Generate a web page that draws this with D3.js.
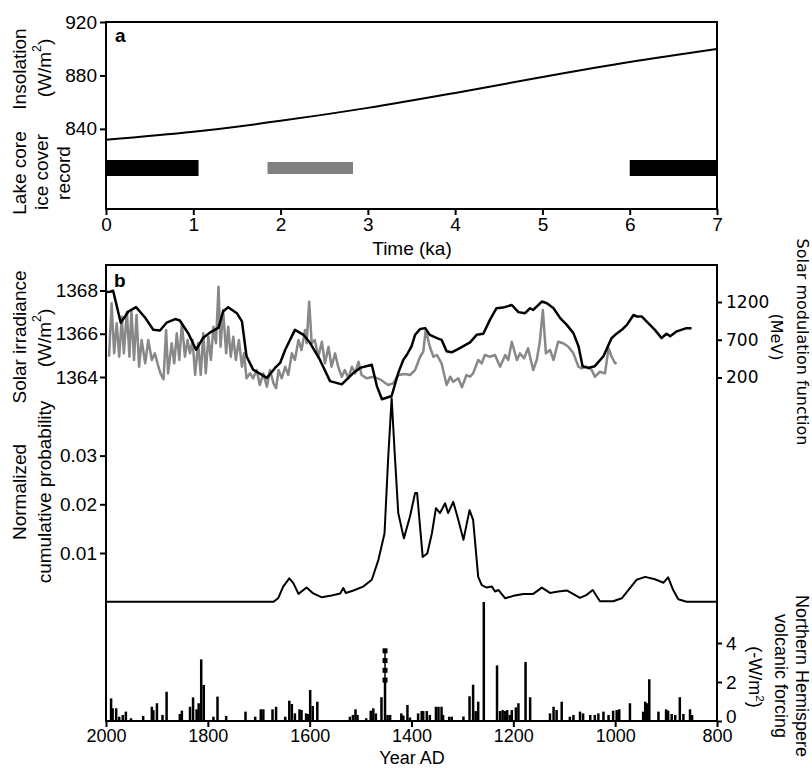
<!DOCTYPE html>
<html>
<head>
<meta charset="utf-8">
<script src="https://cdn.jsdelivr.net/npm/d3@7"></script>
<style>
  body { margin: 0; background: #fff; }
  svg { display: block; font-family: "Liberation Sans", Arial, sans-serif; }
  .tick text { font-family: "Liberation Sans", Arial, sans-serif; font-size: 19px; fill: #000; }
  .tick line { stroke: #000; stroke-width: 2px; }
  .years .tick text { font-size: 18px; }
  .mod .tick text { font-family: "DejaVu Sans", Verdana, sans-serif; font-size: 17px; }
  .frame { fill: none; stroke: #000; stroke-width: 2px; }
  .title { font-size: 19px; fill: #000; }
  .title.small { font-size: 18px; }
  .title.dv { font-family: "DejaVu Sans", Verdana, sans-serif; font-size: 16px; }
  .panel { font-size: 19px; font-weight: bold; }
</style>
</head>
<body>
<svg id="chart" width="812" height="768"></svg>
<script>
// panel a: summer insolation (ka) and the lake core ice cover record
const kaTicks = [0, 1, 2, 3, 4, 5, 6, 7];
const insolationTicks = [840, 880, 920];
const insolationKa = [0, 1, 2, 3, 4, 5, 6, 7];
const insolationWm2 = [831.8, 837.8, 846, 855.7, 866.9, 878.8, 890, 899.8];
const iceStartKa = [0, 1.85, 6.0];
const iceEndKa = [1.06, 2.83, 7.0];
const iceClass = ['A', 'B', 'A'];

// panel b: year AD axis
const yearTicks = [2000, 1800, 1600, 1400, 1200, 1000, 800];

// solar irradiance (W/m2), black
const irradianceTicks = [1364, 1366, 1368];
const irradianceYear = [2000, 1992, 1986, 1971, 1956, 1941, 1923, 1907, 1894, 1881, 1864, 1855, 1838, 1823, 1809, 1796,
  1779, 1770, 1760, 1743, 1733, 1724, 1711, 1684, 1668, 1658, 1648, 1629, 1612, 1599, 1580, 1560, 1537, 1514, 1501,
  1478, 1468, 1458, 1439, 1426, 1416, 1409, 1400, 1393, 1383, 1373, 1364, 1350, 1341, 1331, 1321, 1305, 1285, 1272,
  1259, 1246, 1233, 1220, 1203, 1190, 1177, 1167, 1161, 1144, 1134, 1121, 1108, 1095, 1082, 1072, 1064, 1053, 1040,
  1023, 1007, 1000, 987, 977, 964, 958, 948, 935, 922, 909, 899, 892, 879, 860, 850];
const irradianceValue = [1367.93, 1367.94, 1367.99, 1366.51, 1367.03, 1367.23, 1366.74, 1366.18, 1366.15, 1366.51,
  1366.68, 1366.61, 1366.0, 1365.26, 1365.82, 1366.05, 1366.28, 1367.03, 1367.23, 1366.95, 1366.57, 1364.96, 1364.34,
  1363.96, 1364.42, 1364.65, 1365.26, 1366.18, 1365.95, 1365.57, 1364.8, 1363.81, 1363.66, 1364.19, 1364.42, 1364.57,
  1363.58, 1362.97, 1363.12, 1364.19, 1364.8, 1365.03, 1365.42, 1365.95, 1366.22, 1366.26, 1365.95, 1365.8, 1365.72,
  1365.19, 1365.14, 1365.34, 1365.6, 1365.95, 1366.0, 1366.64, 1367.18, 1367.21, 1367.33, 1367.0, 1366.95, 1367.18,
  1367.1, 1367.49, 1367.41, 1367.18, 1366.72, 1366.41, 1366.03, 1365.42, 1364.5, 1364.42, 1364.5, 1364.96, 1365.8,
  1365.95, 1366.18, 1366.41, 1366.87, 1366.8, 1366.8, 1366.49, 1366.18, 1365.8, 1366.0, 1365.88, 1366.11, 1366.26,
  1366.26];

// solar modulation function (MeV), gray
const modulationTicks = [200, 700, 1200];
const modulationYear = [1994, 1989, 1984, 1979, 1974, 1969, 1965, 1959, 1954, 1950, 1945, 1940, 1935, 1930, 1923,
  1917, 1910, 1904, 1897, 1893, 1887, 1882, 1878, 1871, 1866, 1861, 1856, 1851, 1845, 1840, 1835, 1830, 1825, 1819,
  1814, 1809, 1804, 1799, 1794, 1789, 1784, 1779, 1775, 1770, 1764, 1760, 1755, 1750, 1745, 1739, 1733, 1729, 1724,
  1717, 1711, 1704, 1698, 1691, 1684, 1678, 1671, 1666, 1661, 1655, 1648, 1642, 1635, 1629, 1622, 1616, 1609, 1606,
  1601, 1596, 1590, 1583, 1576, 1570, 1563, 1557, 1550, 1544, 1537, 1531, 1524, 1517, 1511, 1504, 1498, 1488, 1475,
  1462, 1446, 1436, 1426, 1413, 1403, 1393, 1383, 1377, 1372, 1364, 1357, 1350, 1341, 1331, 1324, 1318, 1308, 1301,
  1292, 1285, 1279, 1269, 1262, 1256, 1246, 1236, 1226, 1216, 1210, 1203, 1193, 1187, 1179, 1171, 1161, 1154, 1148,
  1142, 1136, 1128, 1121, 1112, 1102, 1092, 1082, 1072, 1066, 1056, 1046, 1040, 1030, 1020, 1013, 1007, 1000, 997];
const modulationValue = [475, 1183, 520, 918, 475, 1005, 520, 1071, 475, 1094, 432, 1028, 343, 697, 388, 697, 432,
  520, 343, 255, 176, 829, 255, 653, 388, 785, 432, 918, 475, 697, 520, 697, 233, 653, 233, 785, 255, 740, 432, 873,
  653, 1403, 608, 1094, 520, 873, 475, 740, 432, 697, 343, 520, 189, 255, 189, 299, 100, 255, 78, 299, 123, 57, 299,
  189, 343, 233, 520, 432, 697, 564, 829, 653, 1204, 653, 697, 475, 674, 388, 608, 343, 520, 343, 210, 299, 189, 343,
  255, 409, 233, 189, 210, 176, 100, 123, 233, 246, 233, 299, 475, 541, 829, 608, 475, 498, 388, 100, 210, 144, 189,
  70, 233, 210, 255, 432, 388, 498, 475, 498, 343, 498, 432, 674, 432, 520, 454, 587, 299, 432, 674, 1094, 520, 564,
  432, 674, 653, 608, 520, 343, 322, 343, 299, 210, 276, 255, 587, 475, 388, 396];

// normalized cumulative probability
const probabilityTicks = [0.01, 0.02, 0.03];
const probabilityYear = [2000, 1671, 1662, 1652, 1640, 1632, 1622, 1606, 1593, 1576, 1560, 1540, 1534, 1529, 1514,
  1495, 1478, 1465, 1453, 1446, 1439, 1433, 1426, 1415, 1403, 1393, 1389, 1378, 1369, 1360, 1352, 1344, 1334, 1328,
  1318, 1308, 1298, 1286, 1279, 1269, 1262, 1252, 1242, 1236, 1229, 1216, 1200, 1180, 1161, 1144, 1128, 1112, 1095,
  1069, 1056, 1044, 1030, 1004, 987, 971, 958, 941, 922, 905, 896, 886, 876, 860, 800];
const probabilityValue = [0, 0, 0.0007, 0.0031, 0.0048, 0.0038, 0.0016, 0.0029, 0.0017, 0.0009, 0.0012, 0.0017,
  0.0028, 0.0018, 0.0023, 0.0031, 0.0045, 0.0086, 0.014, 0.0291, 0.0418, 0.0305, 0.0182, 0.013, 0.0175, 0.0223,
  0.0223, 0.0092, 0.0099, 0.014, 0.0192, 0.0182, 0.0202, 0.0182, 0.0205, 0.0168, 0.0127, 0.0188, 0.0168, 0.0051,
  0.0034, 0.0029, 0.0031, 0.0021, 0.0024, 0.0007, 0.0012, 0.0016, 0.0016, 0.0029, 0.0018, 0.0021, 0.0023, 0.0008,
  0.0014, 0.0024, 0.0001, 0.0001, 0.0007, 0.0028, 0.0045, 0.0051, 0.0046, 0.0039, 0.005, 0.0024, 0.0005, 0, 0];

// Northern Hemisphere volcanic forcing (-W/m2)
const volcanicTicks = [0, 2, 4];
const volcanicYear = [1990, 1987, 1980, 1974, 1967, 1961, 1951, 1927, 1910, 1907, 1900, 1889, 1881, 1855, 1851, 1835,
  1829, 1822, 1818, 1813, 1808, 1789, 1781, 1764, 1726, 1707, 1696, 1691, 1673, 1666, 1648, 1640, 1635, 1629, 1620,
  1616, 1607, 1603, 1599, 1594, 1585, 1521, 1515, 1510, 1506, 1489, 1480, 1475, 1470, 1459, 1452, 1447, 1442, 1420,
  1416, 1408, 1403, 1387, 1380, 1377, 1370, 1364, 1352, 1347, 1341, 1338, 1326, 1321, 1298, 1286, 1279, 1274, 1269,
  1258, 1232, 1226, 1221, 1216, 1212, 1207, 1203, 1195, 1190, 1176, 1167, 1128, 1121, 1115, 1105, 1089, 1082, 1069,
  1063, 1049, 1040, 1033, 1023, 1013, 1004, 997, 992, 971, 945, 941, 937, 933, 915, 900, 896, 889, 882, 873, 866,
  853, 849];
const volcanicValue = [1.16, 0.65, 0.65, 0.22, 0.31, 0.48, 0.14, 0.26, 0.73, 0.56, 0.91, 0.31, 1.5, 0.36, 0.53, 0.73,
  1.21, 0.6, 0.91, 3.16, 1.85, 0.22, 1.25, 0.26, 0.48, 0.22, 0.6, 0.6, 0.6, 0.73, 0.22, 1.04, 0.87, 0.39, 0.6, 0.56,
  0.39, 0.36, 1.59, 0.77, 0.99, 0.22, 0.31, 0.6, 0.31, 0.14, 0.53, 0.65, 0.39, 1.22, 2.05, 0.31, 0.31, 0.39, 0.28,
  0.82, 0.18, 0.39, 0.51, 0.51, 0.51, 0.31, 0.73, 0.73, 0.73, 0.31, 0.22, 0.22, 0.23, 1.27, 1.86, 0.51, 0.99, 6.1,
  2.85, 0.51, 0.56, 0.51, 0.56, 0.31, 0.56, 0.7, 0.91, 3.03, 1.22, 0.39, 0.73, 0.56, 0.99, 0.22, 0.31, 0.48, 0.39,
  0.31, 0.31, 0.39, 0.48, 0.31, 0.53, 0.56, 0.6, 0.91, 0.48, 0.99, 0.91, 2.14, 0.48, 0.6, 0.53, 0.36, 0.31, 1.22,
  0.36, 0.6, 0.31];
// uncertain upper range of the ~1452 eruption (dotted, square markers)
const volcanicDottedYear = 1452;
const volcanicDottedMarks = [2.1, 2.6, 3.1, 3.6];

(function () {
  const svg = d3.select('#chart');
  const left = 106;
  const right = 717;
  const iceColor = { A: '#000', B: '#808080' };
  const iceHeight = { A: 16, B: 12 };
  const intFmt = d3.format('d');

  drawPanelA();
  drawPanelB();
  svg.selectAll('.domain').remove();

  function drawPanelA() {
    const top = 22;
    const bottom = 209;
    const x = d3.scaleLinear().domain([0, 7]).range([left, right]);
    const y = d3.scaleLinear().domain([780, 920]).range([bottom, top]);
    const g = svg.append('g');

    g.append('g')
      .attr('transform', `translate(0,${bottom})`)
      .call(d3.axisBottom(x).tickValues(kaTicks).tickSize(6).tickPadding(3).tickFormat(intFmt));
    g.append('g')
      .attr('transform', `translate(${left},0)`)
      .call(d3.axisLeft(y).tickValues(insolationTicks).tickSize(6).tickPadding(3).tickFormat(intFmt));

    const pts = insolationKa.map((k, i) => [k, insolationWm2[i]]);
    g.append('path')
      .datum(pts)
      .attr('fill', 'none')
      .attr('stroke', '#000')
      .attr('stroke-width', 2)
      .attr('d', d3.line().x(d => x(d[0])).y(d => y(d[1])).curve(d3.curveMonotoneX));

    // ice cover bars sit in a band below the insolation curve
    const bandY = 168;
    g.selectAll('rect.ice')
      .data(iceStartKa.map((s, i) => ({ s, e: iceEndKa[i], c: iceClass[i] })))
      .join('rect')
      .attr('class', 'ice')
      .attr('x', d => x(d.s))
      .attr('width', d => x(d.e) - x(d.s))
      .attr('y', d => bandY - iceHeight[d.c] / 2)
      .attr('height', d => iceHeight[d.c])
      .attr('fill', d => iceColor[d.c]);

    g.append('rect').attr('class', 'frame')
      .attr('x', left).attr('y', top).attr('width', right - left).attr('height', bottom - top);

    g.append('text').attr('class', 'panel').attr('x', 115).attr('y', 42).text('a');
    g.append('text').attr('class', 'title').attr('x', 412).attr('y', 255)
      .attr('text-anchor', 'middle').text('Time (ka)');

    vLabel(['Insolation'], 19, 69, -90);
    vLabel(['(W/m', '2', ')'], 44, 68, -90);
    vLabel(['Lake core'], 19, 173, -90);
    vLabel(['ice cover'], 41, 172, -90);
    vLabel(['record'], 63, 173, -90);
  }

  function drawPanelB() {
    const top = 265;
    const bottom = 721;
    const x = d3.scaleLinear().domain([2000, 800]).range([left, right]);
    const yIrr = d3.scaleLinear().domain([1364, 1368]).range([377, 290.5]);
    const yMod = d3.scaleLinear().domain([200, 1200]).range([377.5, 302]);
    const yProb = d3.scaleLinear().domain([0, 0.03]).range([601.7, 455.6]);
    const yVolc = d3.scaleLinear().domain([0, 4]).range([bottom, 643]);
    const g = svg.append('g');

    g.append('g').attr('class', 'years')
      .attr('transform', `translate(0,${bottom})`)
      .call(d3.axisBottom(x).tickValues(yearTicks).tickSize(6).tickPadding(2).tickFormat(intFmt));
    g.append('g')
      .attr('transform', `translate(${left},0)`)
      .call(d3.axisLeft(yIrr).tickValues(irradianceTicks).tickSize(6).tickPadding(2).tickFormat(intFmt));
    g.append('g')
      .attr('transform', `translate(${left},0)`)
      .call(d3.axisLeft(yProb).tickValues(probabilityTicks).tickSize(6).tickPadding(3).tickFormat(d3.format('.2f')));
    g.append('g').attr('class', 'mod')
      .attr('transform', `translate(${right},0)`)
      .call(d3.axisRight(yMod).tickValues(modulationTicks).tickSize(5).tickPadding(4).tickFormat(intFmt));
    g.append('g').attr('class', 'volc-axis')
      .attr('transform', `translate(${right},0)`)
      .call(d3.axisRight(yVolc).tickValues(volcanicTicks).tickSize(5).tickPadding(4).tickFormat(intFmt));
    // lift the "0" label a touch so it clears the 800 label below it
    g.selectAll('.volc-axis .tick text').filter(d => d === 0).attr('dy', '0.1em');

    // volcanic forcing bars
    g.selectAll('rect.volc')
      .data(volcanicYear.map((yr, i) => [yr, volcanicValue[i]]))
      .join('rect')
      .attr('class', 'volc')
      .attr('x', d => x(d[0]) - 1.25)
      .attr('width', 2.5)
      .attr('y', d => yVolc(d[1]))
      .attr('height', d => yVolc(0) - yVolc(d[1]))
      .attr('fill', '#000');

    const dx = x(volcanicDottedYear);
    g.append('line')
      .attr('x1', dx).attr('x2', dx)
      .attr('y1', yVolc(d3.min(volcanicDottedMarks)))
      .attr('y2', yVolc(d3.max(volcanicDottedMarks)))
      .attr('stroke', '#000').attr('stroke-width', 1.5);
    g.selectAll('rect.mark')
      .data(volcanicDottedMarks)
      .join('rect')
      .attr('class', 'mark')
      .attr('x', dx - 2.5).attr('width', 5)
      .attr('y', d => yVolc(d) - 2.5).attr('height', 5)
      .attr('fill', '#000');

    const line = (ys, vs, sc) => d3.line().x(d => x(d[0])).y(d => sc(d[1]))(ys.map((yr, i) => [yr, vs[i]]));

    g.append('path')
      .attr('d', line(probabilityYear, probabilityValue, yProb))
      .attr('fill', 'none').attr('stroke', '#000').attr('stroke-width', 2).attr('stroke-linejoin', 'round');
    g.append('path')
      .attr('d', line(modulationYear, modulationValue, yMod))
      .attr('fill', 'none').attr('stroke', '#888').attr('stroke-width', 2.5).attr('stroke-linejoin', 'round');
    g.append('path')
      .attr('d', line(irradianceYear, irradianceValue, yIrr))
      .attr('fill', 'none').attr('stroke', '#000').attr('stroke-width', 2.5).attr('stroke-linejoin', 'round');

    g.append('rect').attr('class', 'frame')
      .attr('x', left).attr('y', top).attr('width', right - left).attr('height', bottom - top);

    g.append('text').attr('class', 'panel').attr('x', 114).attr('y', 287).text('b');
    g.append('text').attr('class', 'title small').attr('x', 412).attr('y', 764)
      .attr('text-anchor', 'middle').text('Year AD');

    vLabel(['Solar irradiance'], 19, 337, -90);
    vLabel(['(W/m', '2', ')'], 44, 338, -90);
    vLabel(['Normalized'], 19, 492, -90);
    vLabel(['cumulative probability'], 44, 492, -90);

    vLabel(['Solar modulation function'], 803, 342, 90, 'title dv');
    vLabel(['(MeV)'], 777, 337, 90, 'title dv');
    vLabel(['Northern Hemispere'], 802, 676, 90, 'title small');
    vLabel(['volcanic forcing'], 781, 676, 90, 'title small');
    vLabel(['(-W/m', '2', ')'], 755, 677, 90, 'title small');
  }

  // rotated axis title; a three-part array gets a superscript middle part
  function vLabel(parts, cx, cy, angle, cls) {
    const t = svg.append('text')
      .attr('class', cls || 'title')
      .attr('transform', `translate(${cx},${cy}) rotate(${angle})`)
      .attr('text-anchor', 'middle')
      .attr('dominant-baseline', 'central');
    t.append('tspan').text(parts[0]);
    if (parts.length > 1) {
      t.append('tspan').attr('font-size', '0.65em').attr('dy', '-0.55em').text(parts[1]);
      t.append('tspan').attr('dy', '0.36em').text(parts[2]);
    }
  }
})();
</script>
</body>
</html>
